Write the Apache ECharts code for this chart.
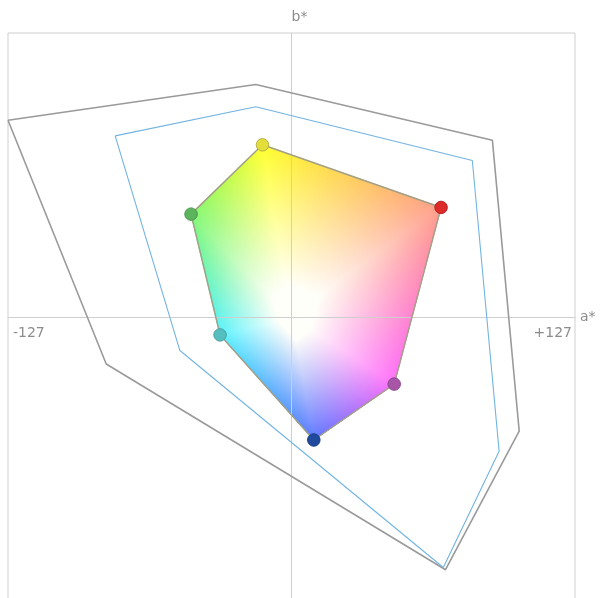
<!DOCTYPE html>
<html>
<head>
<meta charset="utf-8">
<script src="https://cdn.jsdelivr.net/npm/echarts@6/dist/echarts.min.js"></script>
<style>
html,body{margin:0;padding:0;background:#fff;}
#chart{width:601px;height:598px;}
</style>
</head>
<body>
<div id="chart"></div>
<script>
// ---- data (a*, b*) ----
const axisRange = [-127, 127];
const tickLabels = ['-127', '+127'];
const outerGamut = [[-127, 88], [-16, 104], [90, 79], [102, -51], [69, -113], [-83, -21]];
const refGamut   = [[-79, 81], [-16, 94], [81, 70], [93, -60], [68, -112], [-50, -15]];
const deviceGamut = [[-13, 77], [67, 49], [46, -30], [10, -55], [-32, -8], [-45, 46]];
const deviceNames = ['Y', 'R', 'M', 'B', 'C', 'G'];

// ---- styles ----
const edgeFill   = ['#ffff2e', '#ff9e8a', '#ff70fa', '#5e78ff', '#5af2ff', '#80f874'];
const markerFill = ['#e4de3a', '#dd2a2a', '#a855a8', '#1f4a9e', '#55bfbf', '#5cb45c'];
const markerLine = ['#b7b046', '#b02424', '#86458a', '#183c80', '#45a0a0', '#4a944a'];

function hex(c){return [parseInt(c.slice(1,3),16),parseInt(c.slice(3,5),16),parseInt(c.slice(5,7),16)];}
function mix(c1,c2,t){const a=hex(c1),b=hex(c2);return 'rgb('+a.map((v,i)=>Math.round(v+(b[i]-v)*t)).join(',')+')';}

// triangle-fan slices for the gradient fill
const N = 40;
const slices = [], sliceColors = [];
for (let i = 0; i < deviceGamut.length; i++) {
  const p = deviceGamut[i], q = deviceGamut[(i + 1) % deviceGamut.length];
  const c1 = edgeFill[i], c2 = edgeFill[(i + 1) % edgeFill.length];
  for (let k = 0; k < N; k++) {
    const t0 = k / N, t1 = (k + 1) / N;
    slices.push([p[0] + (q[0]-p[0])*t0, p[1] + (q[1]-p[1])*t0, p[0] + (q[0]-p[0])*t1, p[1] + (q[1]-p[1])*t1]);
    sliceColors.push(mix(c1, c2, (t0 + t1) / 2));
  }
}
const closed = arr => arr.concat([arr[0]]);

const chart = echarts.init(document.getElementById('chart'));
const font = 'DejaVu Sans';
const labelColor = '#8c8c8c';
chart.setOption({
  animation: false,
  grid: {left: 8, top: 33, width: 567, height: 568, show: true, borderColor: '#cfcfcf', borderWidth: 1,
         containLabel: false, outerBoundsMode: 'none'},
  xAxis: {
    type: 'value', min: axisRange[0], max: axisRange[1], interval: 127, z: 2,
    name: 'a*', nameLocation: 'end', nameGap: 5,
    nameTextStyle: {color: labelColor, fontFamily: font, fontSize: 14, verticalAlign: 'middle'},
    axisLine: {onZero: true, lineStyle: {color: '#cfcfcf', width: 1}},
    axisTick: {show: false},
    splitLine: {show: false},
    axisLabel: {show: false}
  },
  yAxis: {
    type: 'value', min: axisRange[0], max: axisRange[1], interval: 127, z: 2,
    name: 'b*', nameLocation: 'end', nameGap: 9,
    nameTextStyle: {color: labelColor, fontFamily: font, fontSize: 14, align: 'left'},
    axisLine: {onZero: true, lineStyle: {color: '#cfcfcf', width: 1}},
    axisTick: {show: false},
    splitLine: {show: false},
    axisLabel: {show: false}
  },
  series: [
    {
      type: 'custom', z: 1, silent: true,
      data: slices,
      encode: {x: [0, 2], y: [1, 3]},
      renderItem: function (params, api) {
        const c = api.coord([0, 0]);
        const p0 = api.coord([api.value(0), api.value(1)]);
        const p1 = api.coord([api.value(2), api.value(3)]);
        const m = [(p0[0] + p1[0]) / 2, (p0[1] + p1[1]) / 2];
        const col = sliceColors[params.dataIndex];
        const g = () => new echarts.graphic.LinearGradient(c[0], c[1], m[0], m[1],
          [{offset: 0, color: '#fffffa'}, {offset: 0.18, color: '#fffffa'}, {offset: 1, color: col}], true);
        return {type: 'polygon', shape: {points: [c, p0, p1]}, style: {fill: g(), stroke: g(), lineWidth: 0.8}};
      }
    },
    {
      type: 'line', z: 3, silent: true, showSymbol: false, symbol: 'none',
      data: closed(outerGamut),
      lineStyle: {color: '#9a9a9a', width: 1.6}
    },
    {
      type: 'line', z: 3, silent: true, showSymbol: false, symbol: 'none',
      data: closed(refGamut),
      lineStyle: {color: '#72b4e2', width: 1.1}
    },
    {
      type: 'line', z: 4, silent: true, showSymbol: false, symbol: 'none',
      data: closed(deviceGamut),
      lineStyle: {color: '#a3a089', width: 1.5}
    },
    {
      type: 'scatter', z: 5, silent: true, symbol: 'circle', symbolSize: 12.5,
      data: deviceGamut.map((p, i) => ({
        name: deviceNames[i], value: p,
        itemStyle: {color: markerFill[i], borderColor: markerLine[i], borderWidth: 1, opacity: 1}
      }))
    }
  ]
});

// end labels of the a* axis, placed through the chart's own scale
const pMin = chart.convertToPixel({xAxisIndex: 0, yAxisIndex: 0}, [axisRange[0], 0]);
const pMax = chart.convertToPixel({xAxisIndex: 0, yAxisIndex: 0}, [axisRange[1], 0]);
chart.setOption({
  graphic: [
    {type: 'text', x: pMin[0] + 5, y: pMin[1] + 16, z: 10,
     style: {text: tickLabels[0], fill: labelColor, font: '14px "DejaVu Sans"', textAlign: 'left', textVerticalAlign: 'middle'}},
    {type: 'text', x: pMax[0] - 3, y: pMax[1] + 16, z: 10,
     style: {text: tickLabels[1], fill: labelColor, font: '14px "DejaVu Sans"', textAlign: 'right', textVerticalAlign: 'middle'}}
  ]
});
</script>
</body>
</html>
